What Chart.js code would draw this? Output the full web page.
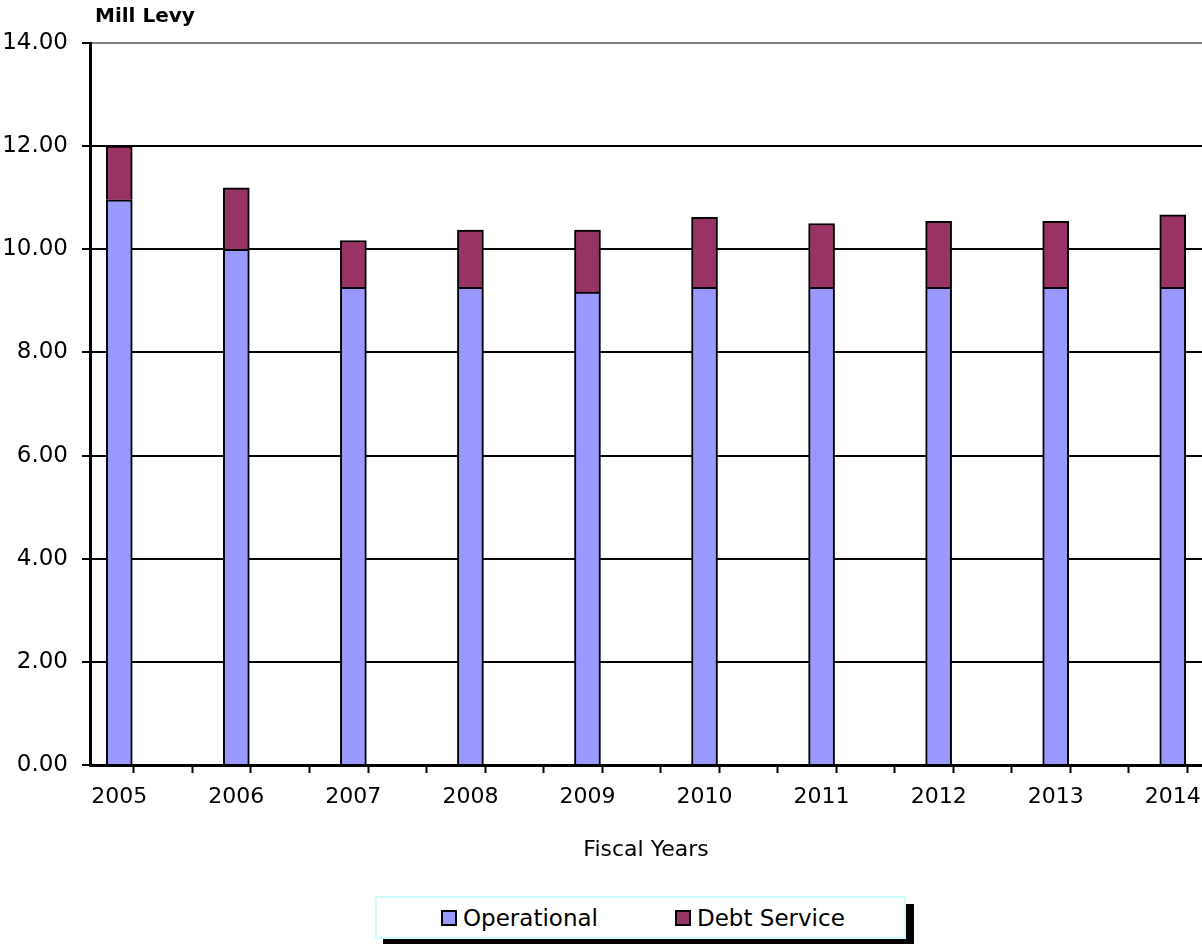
<!doctype html>
<html lang="en">
  <head>
    <meta charset="utf-8">
    <title>Mill Levy by Fiscal Year</title>
    <script src="https://cdn.jsdelivr.net/npm/chart.js"></script>
    <style>
      body { margin: 0; background: #fff; overflow: hidden; }
      .levy-wrap { position: relative; width: 1202px; height: 944px; }
      .levy-chart { position: absolute; left: 0; top: 0; width: 1202px; height: 870px; }
      .levy-legend {
        position: absolute;
        left: 375px;
        top: 896px;
        width: 531px;
        height: 43px;
        box-sizing: border-box;
        border: 2px solid #ccffff;
        background: #fff;
        box-shadow: 8px 8px 0 #000;
        font-family: "DejaVu Sans", sans-serif;
        font-size: 23px;
        color: #000;
      }
      .levy-legend span.item { position: absolute; top: 0; height: 39px; display: flex; align-items: center; }
      .levy-legend i { display: inline-block; width: 12px; height: 12px; border: 2px solid #000; margin-right: 6px; }
    </style>
  </head>
  <body>
    <div class="levy-wrap">
      <div class="levy-chart"><canvas id="levyChart"></canvas></div>
      <div class="levy-legend" id="levyLegend"></div>
    </div>
    <script>
      // Mill levy per fiscal year, split into operational and debt service
      const years = ['2005', '2006', '2007', '2008', '2009', '2010', '2011', '2012', '2013', '2014'];
      const operational = [10.96, 10.00, 9.26, 9.26, 9.17, 9.26, 9.26, 9.26, 9.26, 9.26];
      const debtService = [1.04, 1.19, 0.91, 1.11, 1.20, 1.36, 1.24, 1.28, 1.28, 1.41];
      const yTicks = [0, 2, 4, 6, 8, 10, 12, 14];

      const seriesNames = ['Operational', 'Debt Service'];
      const seriesColors = ['#9999ff', '#993366'];

      const font = 'DejaVu Sans';

      // y axis caption above the plot
      const captionPlugin = {
        id: 'caption',
        afterDraw(chart) {
          const c = chart.ctx;
          c.save();
          c.font = 'bold 20px "' + font + '"';
          c.fillStyle = '#000';
          c.textBaseline = 'alphabetic';
          c.fillText('Mill Levy', chart.chartArea.left + 5, 22);
          c.restore();
        }
      };

      // x tick positions every quarter category; marks only on the odd quarters
      const quarterSteps = [];
      for (let i = -1; i <= 37; i++) quarterSteps.push(i / 4);

      new Chart(document.getElementById('levyChart'), {
        type: 'bar',
        data: {
          datasets: [
            {
              label: seriesNames[0],
              data: operational.map((v, i) => ({ x: i, y: v })),
              backgroundColor: seriesColors[0],
              borderColor: '#000',
              borderWidth: 2
            },
            {
              label: seriesNames[1],
              data: debtService.map((v, i) => ({ x: i, y: v })),
              backgroundColor: seriesColors[1],
              borderColor: '#000',
              borderWidth: 2
            }
          ]
        },
        options: {
          responsive: true,
          maintainAspectRatio: false,
          animation: false,
          barThickness: 26,
          layout: { padding: { top: 43, right: 0, bottom: 0, left: 0 } },
          plugins: {
            legend: { display: false },
            tooltip: { enabled: false }
          },
          scales: {
            x: {
              type: 'linear',
              stacked: true,
              offset: false,
              min: -0.25,
              max: 9.25,
              afterBuildTicks: (scale) => {
                scale.ticks = quarterSteps.map(v => ({ value: v }));
              },
              afterFit: (scale) => {
                scale.height = 105;
                // let the last label run to the canvas edge
                scale.paddingLeft = 0;
                scale.paddingRight = 0;
              },
              ticks: {
                autoSkip: false,
                maxRotation: 0,
                minRotation: 0,
                padding: 11,
                color: '#000',
                font: { family: font, size: 22 },
                callback: (v) => Number.isInteger(v) ? years[v] : ''
              },
              grid: {
                drawOnChartArea: false,
                drawTicks: true,
                tickLength: 8,
                tickWidth: 2,
                tickColor: (ctx) => (ctx.tick && Math.round(ctx.tick.value * 4) % 2 !== 0) ? '#000' : 'rgba(0,0,0,0)'
              },
              border: { display: true, color: '#000', width: 3 },
              title: {
                display: true,
                text: 'Fiscal Years',
                color: '#000',
                font: { family: font, size: 22 },
                padding: { top: 0, bottom: 7 }
              }
            },
            y: {
              stacked: true,
              min: 0,
              max: 14,
              afterBuildTicks: (scale) => {
                scale.ticks = yTicks.map(v => ({ value: v }));
              },
              afterFit: (scale) => { scale.width = 90; },
              ticks: {
                padding: 14,
                color: '#000',
                font: { family: font, size: 23 },
                callback: (v) => v.toFixed(2)
              },
              grid: {
                lineWidth: 2,
                tickLength: 8,
                tickColor: '#000',
                color: (ctx) => ctx.tick && ctx.tick.value === 14 ? '#808080' : '#000'
              },
              border: { display: true, color: '#000', width: 3 }
            }
          }
        },
        plugins: [captionPlugin]
      });

      // legend box below the chart
      const legend = document.getElementById('levyLegend');
      const itemLeft = [64, 298];
      seriesNames.forEach((name, i) => {
        const item = document.createElement('span');
        item.className = 'item';
        item.style.left = itemLeft[i] + 'px';
        const swatch = document.createElement('i');
        swatch.style.background = seriesColors[i];
        item.appendChild(swatch);
        item.appendChild(document.createTextNode(name));
        legend.appendChild(item);
      });
    </script>
  </body>
</html>
